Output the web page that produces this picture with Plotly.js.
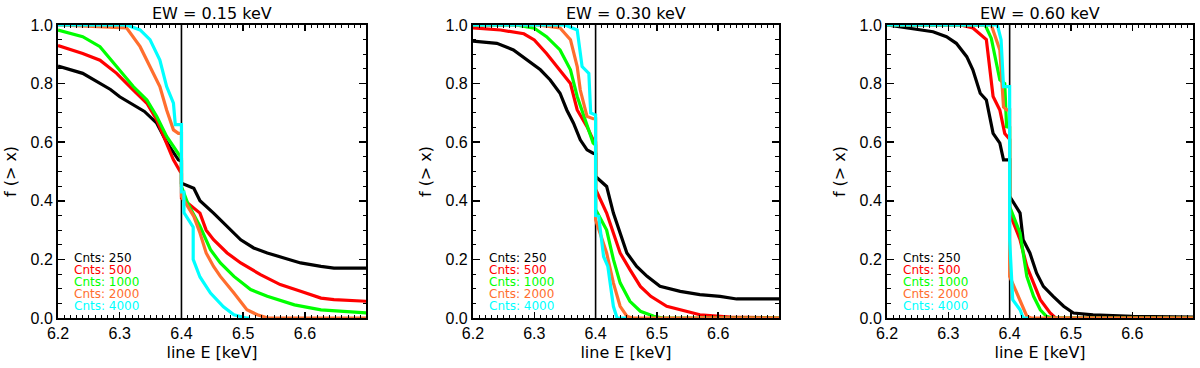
<!DOCTYPE html>
<html>
<head>
<meta charset="utf-8">
<script src="https://cdn.plot.ly/plotly-3.0.1.min.js"></script>
<style>html,body{margin:0;padding:0;background:#fff;}#chart{width:1200px;height:368px;}</style>
</head>
<body>
<div id="chart"></div>
<script>
// ---------- data ----------
const panelTitles = ["EW = 0.15 keV", "EW = 0.30 keV", "EW = 0.60 keV"];
const counts = [250, 500, 1000, 2000, 4000];
const seriesColors = ["#000000", "#ff0000", "#00ff00", "#ff6e2e", "#00ffff"];
const lineE = 6.4;
const xRange = [6.2, 6.699];
const yRange = [0, 1];

// EW = 0.15 keV
const e15_250 = [6.20,6.24,6.285,6.30,6.34,6.36,6.376,6.387,6.395,6.40,6.40,6.42,6.43,6.452,6.474,6.496,6.517,6.539,6.566,6.593,6.626,6.647,6.70];
const f15_250 = [0.86,0.835,0.78,0.755,0.705,0.665,0.60,0.565,0.54,0.535,0.46,0.443,0.40,0.358,0.313,0.267,0.239,0.222,0.205,0.188,0.176,0.17,0.17];
const e15_500 = [6.20,6.24,6.268,6.295,6.322,6.344,6.36,6.376,6.387,6.398,6.40,6.40,6.417,6.43,6.44,6.452,6.474,6.496,6.528,6.56,6.593,6.626,6.647,6.70];
const f15_500 = [0.93,0.903,0.88,0.835,0.778,0.733,0.676,0.597,0.54,0.50,0.495,0.41,0.38,0.358,0.30,0.267,0.222,0.188,0.148,0.114,0.091,0.068,0.063,0.057];
const e15_1000 = [6.20,6.24,6.268,6.295,6.322,6.344,6.36,6.376,6.387,6.398,6.40,6.40,6.41,6.43,6.447,6.463,6.485,6.512,6.539,6.583,6.626,6.70];
const f15_1000 = [0.983,0.96,0.926,0.858,0.79,0.744,0.688,0.62,0.585,0.551,0.545,0.449,0.392,0.313,0.233,0.188,0.142,0.097,0.074,0.045,0.028,0.017];
const e15_2000 = [6.20,6.311,6.333,6.349,6.365,6.376,6.387,6.395,6.40,6.40,6.42,6.43,6.44,6.452,6.463,6.485,6.506,6.523,6.54,6.70];
const f15_2000 = [1.0,0.99,0.926,0.858,0.79,0.71,0.642,0.63,0.63,0.415,0.347,0.29,0.222,0.176,0.142,0.085,0.028,0.011,0.0,0.0];
const e15_4000 = [6.20,6.311,6.333,6.349,6.365,6.376,6.387,6.39,6.40,6.40,6.404,6.404,6.419,6.419,6.43,6.447,6.468,6.485,6.505,6.51];
const f15_4000 = [1.0,1.0,0.983,0.95,0.88,0.79,0.733,0.66,0.66,0.43,0.43,0.36,0.31,0.20,0.14,0.085,0.038,0.011,0.0,0.0];

// EW = 0.30 keV
const e30_250 = [6.20,6.239,6.266,6.288,6.31,6.326,6.342,6.353,6.364,6.375,6.386,6.396,6.40,6.40,6.418,6.429,6.44,6.451,6.467,6.484,6.505,6.538,6.57,6.603,6.63,6.70];
const f30_250 = [0.945,0.9375,0.915,0.88,0.847,0.8125,0.767,0.71,0.665,0.608,0.574,0.5625,0.56,0.483,0.449,0.358,0.29,0.222,0.176,0.142,0.108,0.091,0.08,0.074,0.065,0.065];
const e30_500 = [6.20,6.245,6.283,6.30,6.32,6.342,6.359,6.37,6.386,6.396,6.40,6.40,6.418,6.429,6.44,6.456,6.473,6.49,6.516,6.57,6.62,6.70];
const f30_500 = [0.99,0.983,0.97,0.949,0.903,0.847,0.80,0.71,0.653,0.608,0.60,0.44,0.358,0.29,0.222,0.165,0.108,0.074,0.04,0.011,0.003,0.0];
const e30_1000 = [6.20,6.27,6.30,6.32,6.342,6.359,6.37,6.386,6.396,6.40,6.40,6.418,6.429,6.44,6.456,6.473,6.495,6.51,6.70];
const f30_1000 = [1.0,1.0,0.989,0.96,0.915,0.847,0.756,0.653,0.597,0.59,0.37,0.30,0.20,0.12,0.057,0.023,0.006,0.0,0.0];
const e30_2000 = [6.20,6.305,6.342,6.359,6.37,6.375,6.386,6.396,6.40,6.40,6.418,6.429,6.44,6.451,6.46,6.70];
const f30_2000 = [1.0,1.0,0.99,0.95,0.858,0.778,0.688,0.68,0.68,0.335,0.222,0.12,0.04,0.006,0.0,0.0];
const e30_4000 = [6.20,6.35,6.37,6.378,6.389,6.392,6.40,6.40,6.405,6.413,6.42,6.429,6.435,6.45];
const f30_4000 = [1.0,1.0,0.983,0.858,0.835,0.70,0.693,0.35,0.347,0.21,0.176,0.04,0.0,0.0];

// EW = 0.60 keV
const e60_250 = [6.20,6.237,6.275,6.297,6.313,6.33,6.34,6.352,6.362,6.373,6.384,6.39,6.397,6.40,6.40,6.417,6.422,6.433,6.444,6.455,6.471,6.488,6.504,6.536,6.60,6.70];
const f60_250 = [1.0,0.989,0.977,0.96,0.9375,0.892,0.847,0.767,0.744,0.63,0.597,0.54,0.54,0.54,0.415,0.358,0.267,0.222,0.153,0.108,0.074,0.04,0.017,0.011,0.006,0.003];
const e60_500 = [6.20,6.32,6.34,6.362,6.373,6.384,6.392,6.40,6.40,6.417,6.428,6.439,6.45,6.466,6.475,6.70];
const f60_500 = [1.0,1.0,0.99,0.95,0.756,0.71,0.63,0.61,0.358,0.267,0.176,0.12,0.0625,0.017,0.0,0.0];
const e60_1000 = [6.20,6.36,6.37,6.384,6.392,6.395,6.40,6.40,6.417,6.428,6.439,6.45,6.46,6.47,6.70];
const f60_1000 = [1.0,1.0,0.955,0.8125,0.80,0.653,0.65,0.38,0.29,0.142,0.074,0.028,0.006,0.0,0.0];
const e60_2000 = [6.20,6.37,6.384,6.39,6.395,6.40,6.40,6.417,6.428,6.435,6.70];
const f60_2000 = [1.0,1.0,0.915,0.72,0.71,0.71,0.142,0.0625,0.006,0.0,0.0];
const e60_4000 = [6.20,6.38,6.386,6.39,6.40,6.40,6.405,6.417,6.422,6.43];
const f60_4000 = [1.0,1.0,0.95,0.79,0.79,0.267,0.0625,0.028,0.0,0.0];

// ---------- build ----------
const panels = [
  {E:[e15_250,e15_500,e15_1000,e15_2000,e15_4000], F:[f15_250,f15_500,f15_1000,f15_2000,f15_4000]},
  {E:[e30_250,e30_500,e30_1000,e30_2000,e30_4000], F:[f30_250,f30_500,f30_1000,f30_2000,f30_4000]},
  {E:[e60_250,e60_500,e60_1000,e60_2000,e60_4000], F:[f60_250,f60_500,f60_1000,f60_2000,f60_4000]}
];
const xDomains = [[0, 0.2714], [0.3656, 0.6352], [0.7304, 1.0]];
const TICKFONT = "Liberation Sans, Arial, sans-serif";
const TEXTFONT = "DejaVu Sans, sans-serif";

const traces = [];
const annotations = [];
const shapes = [];
const layout = {
  width: 1200, height: 368,
  margin: {l: 58, r: 7, t: 25, b: 50},
  paper_bgcolor: "#fff", plot_bgcolor: "#fff",
  showlegend: false,
  font: {family: TICKFONT, size: 16, color: "#000"}
};

panels.forEach((p, i) => {
  const sfx = i === 0 ? "" : String(i + 1);
  const xa = "x" + sfx, ya = "y" + sfx;
  [0, 1, 2, 3, 4].forEach(k => {
    traces.push({
      x: p.E[k], y: p.F[k], xaxis: xa, yaxis: ya,
      type: "scatter", mode: "lines",
      line: {color: seriesColors[k], width: 3.2, shape: "linear"},
      hoverinfo: "skip"
    });
  });
  const axCommon = {
    showline: true, linecolor: "#000", linewidth: 2, mirror: "allticks",
    ticks: "inside", tickcolor: "#000", tickwidth: 1.5,
    showgrid: false, zeroline: false, fixedrange: true,
    tickfont: {family: TICKFONT, size: 16, color: "#000"}
  };
  layout["xaxis" + sfx] = Object.assign({}, axCommon, {
    domain: xDomains[i], anchor: ya, range: xRange,
    tickmode: "linear", tick0: 6.2, dtick: 0.1, tickformat: ".1f", ticklen: 6,
    minor: {dtick: 0.01, tick0: 6.2, ticks: "inside", ticklen: 3, tickwidth: 1, tickcolor: "#000", showgrid: false},
    title: {text: "line E [keV]", font: {family: TEXTFONT, size: 16, color: "#000"}, standoff: 6}
  });
  layout["yaxis" + sfx] = Object.assign({}, axCommon, {
    domain: [0, 1], anchor: xa, range: yRange,
    tickmode: "linear", tick0: 0, dtick: 0.2, tickformat: ".1f", ticklen: 7,
    minor: {dtick: 0.05, tick0: 0, ticks: "inside", ticklen: 3.5, tickwidth: 1, tickcolor: "#000", showgrid: false},
    title: {text: "f (> x)", font: {family: TEXTFONT, size: 16, color: "#000"}, standoff: 10}
  });
  shapes.push({
    type: "line", xref: xa, yref: ya + " domain", x0: lineE, x1: lineE, y0: 0, y1: 1,
    line: {color: "#000", width: 1.6}, layer: "below"
  });
  annotations.push({
    text: panelTitles[i], xref: xa + " domain", yref: "paper",
    x: 0.5, y: 1, yshift: 12, yanchor: "middle", xanchor: "center", showarrow: false,
    font: {family: TEXTFONT, size: 16, color: "#000"}
  });
  counts.forEach((c, k) => {
    annotations.push({
      text: "Cnts: " + c, xref: xa + " domain", yref: ya + " domain",
      x: 0.045, y: 0.205 - k * 0.041, xanchor: "left", yanchor: "middle", showarrow: false,
      font: {family: TEXTFONT, size: 12, color: seriesColors[k]}
    });
  });
});
layout.shapes = shapes;
layout.annotations = annotations;

Plotly.newPlot("chart", traces, layout, {displayModeBar: false, staticPlot: true});
</script>
</body>
</html>
